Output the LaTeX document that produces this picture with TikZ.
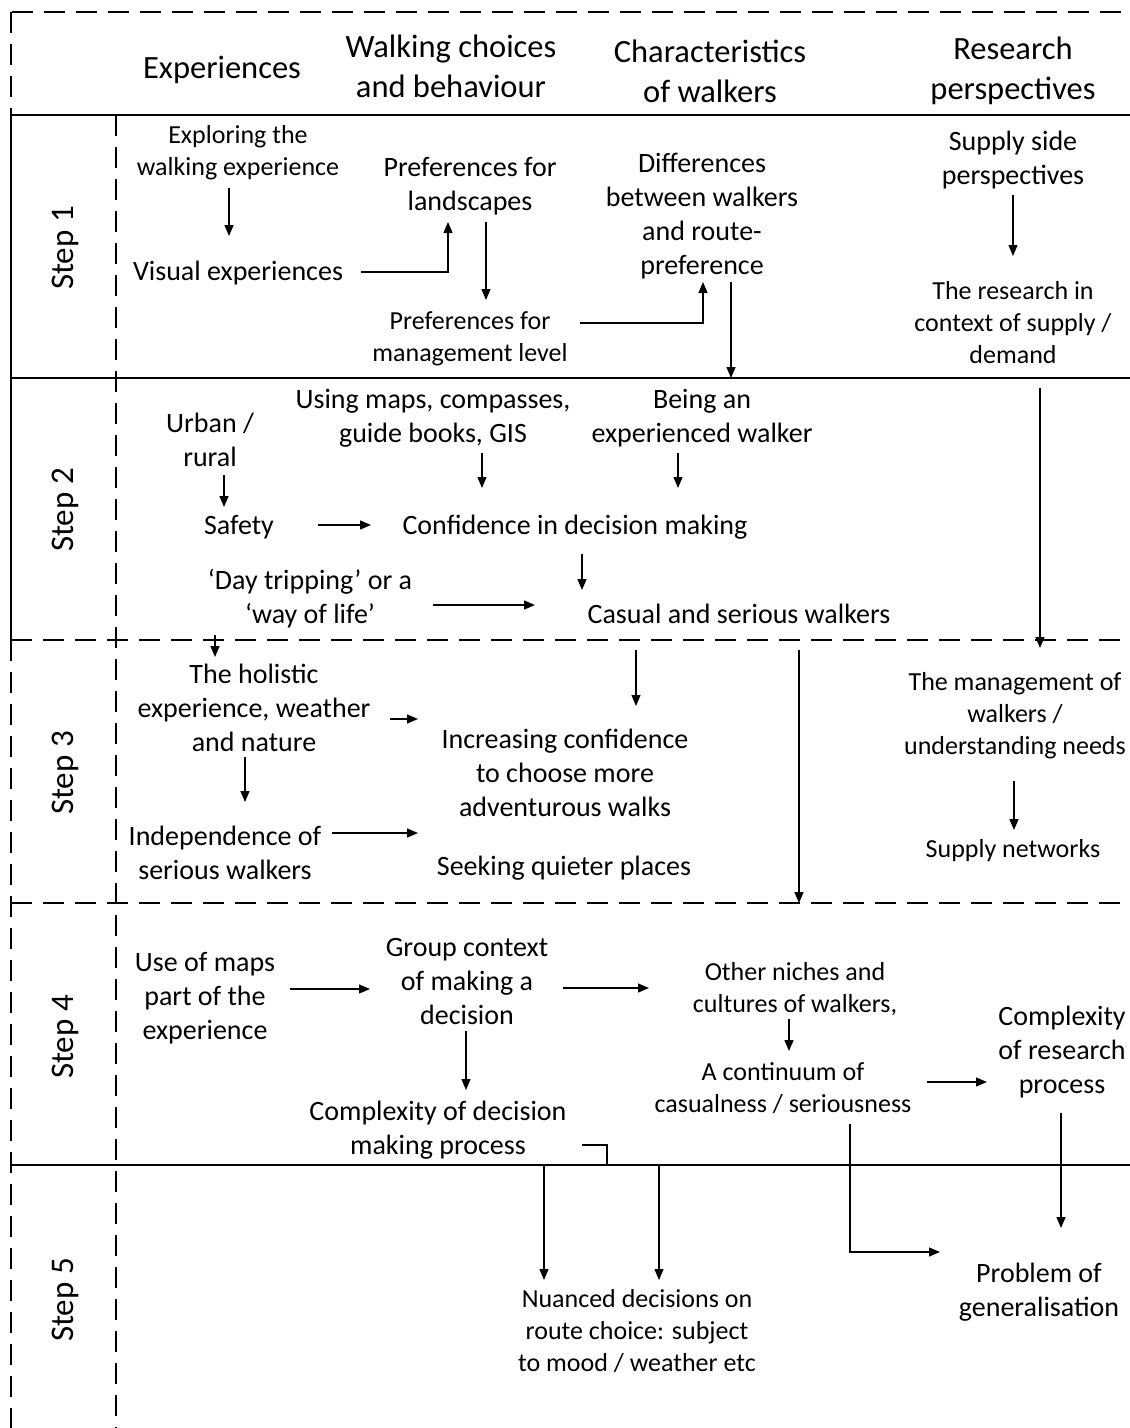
\documentclass[tikz,border=0pt]{standalone}
\usepackage{fontspec}
\setmainfont{Carlito}
\usetikzlibrary{arrows.meta}
\begin{document}
\begin{tikzpicture}[x=1pt, y=-1pt, line width=1.3pt,
  head/.style={font=\fontsize{32.5}{40}\selectfont, align=center, inner sep=0pt},
  txt/.style={font=\fontsize{28}{34}\selectfont, align=center, inner sep=0pt},
  small/.style={font=\fontsize{26}{32}\selectfont, align=center, inner sep=0pt},
  steplabel/.style={font=\fontsize{33}{38}\selectfont, rotate=90, inner sep=0pt},
  arr/.style={-{Triangle[length=11pt, width=9pt]}},
  dashline/.style={dash pattern=on 21pt off 11pt}]
  \useasboundingbox (0,0) rectangle (1130,1428);
  % frame of the table
  \draw[dashline] (12,12) -- (1130,12);
  \draw[dashline] (11,12) -- (11,115);
  \draw (11,115) -- (11,640);
  \draw[dashline] (11,640) -- (11,1428);
  \draw (11,115) -- (1130,115);
  \draw (11,378) -- (1130,378);
  \draw[dashline] (11,640) -- (1130,640);
  \draw[dashline] (11,903) -- (1130,903);
  \draw (11,1165) -- (1130,1165);
  \draw[dashline] (116,115) -- (116,1428);
  % column headers and steps
  \node[head] (hExp) at (222,70) {Experiences};
  \node[head] (hWalk) at (451,66) {Walking choices\\and behaviour};
  \node[head] (hChar) at (710,71) {Characteristics\\of walkers};
  \node[head] (hRes) at (1013,71) {Research\\perspectives};
  \foreach \n/\y in {1/248,2/510,3/773,4/1037,5/1300}
    \node[steplabel] (s\n) at (65,\y) {Step \n};
  % step 1
  \node[small] (explore) at (238,153) {Exploring the\\walking experience};
  \node[txt] (visual) at (238,273) {Visual experiences};
  \node[txt] (landsc) at (470,186) {Preferences for\\landscapes};
  \node[small] (mgmt) at (470,339) {Preferences for\\management level};
  \node[txt] (differ) at (702,216) {Differences\\between walkers\\and route-\\preference};
  \node[txt] (supply) at (1013,160) {Supply side\\perspectives};
  \node[small] (context) at (1013,323) {The research in\\context of supply /\\demand};
  % step 2
  \node[txt] (urban) at (210,440) {Urban /\\rural};
  \node[txt] (safety) at (239,527) {Safety};
  \node[txt] (usemaps) at (433,418) {Using maps, compasses,\\guide books, GIS};
  \node[txt] (experienced) at (702,418) {Being an\\experienced walker};
  \node[txt] (confid) at (575,527) {Confidence in decision making};
  \node[txt] (daytrip) at (310,599) {‘Day tripping’ or a\\‘way of life’};
  \node[txt] (casual) at (739,614) {Casual and serious walkers};
  % step 3
  \node[txt] (holistic) at (254,708) {The holistic\\experience, weather\\and nature};
  \node[txt] (independ) at (225,853) {Independence of\\serious walkers};
  \node[txt] (increasing) at (565,773) {Increasing confidence\\to choose more\\adventurous walks};
  \node[txt] (quieter) at (564,868) {Seeking quieter places};
  \node[small] (manage) at (1015,716) {The management of\\walkers /\\understanding needs};
  \node[small] (networks) at (1013,851) {Supply networks};
  % step 4
  \node[txt] (mapsexp) at (205,998) {Use of maps\\part of the\\experience};
  \node[txt] (group) at (467,982) {Group context\\of making a\\decision};
  \node[small] (niches) at (795,989) {Other niches and\\cultures of walkers,};
  \node[small] (continuum) at (783,1088) {A continuum of\\casualness / seriousness};
  \node[txt] (complexres) at (1062,1052) {Complexity\\of research\\process};
  \node[txt] (complexdec) at (438,1130) {Complexity of decision\\making process};
  % step 5
  \node[small] (nuanced) at (637,1331) {Nuanced decisions on\\route choice: subject\\to mood / weather etc};
  \node[txt] (problem) at (1039,1292) {Problem of\\generalisation};
  % connectors
  \draw[arr] ([shift={(-9,35)}]explore.center) -- ([shift={(-9,-37)}]visual.center);
  \draw[arr] ([shift={(123,-1)}]visual.center) -| ([shift={(-22,36)}]landsc.center);
  \draw[arr] ([shift={(16,36)}]landsc.center) -- ([shift={(16,-39)}]mgmt.center);
  \draw[arr] ([shift={(110,-16)}]mgmt.center) -| ([shift={(1,66)}]differ.center);
  \draw[arr] ([shift={(29,66)}]differ.center) -- ([shift={(29,162)}]differ.center);
  \draw[arr] ([shift={(0,35)}]supply.center) -- ([shift={(0,-67)}]context.center);
  \draw[arr] ([shift={(27,65)}]context.center) -- ([shift={(25,-68)}]manage.center);
  \draw[arr] ([shift={(14,35)}]urban.center) -- ([shift={(-15,-20)}]safety.center);
  \draw[arr] ([shift={(79,-2)}]safety.center) -- ([shift={(-204,-2)}]confid.center);
  \draw[arr] ([shift={(49,35)}]usemaps.center) -- ([shift={(-93,-39)}]confid.center);
  \draw[arr] ([shift={(-24,35)}]experienced.center) -- ([shift={(103,-39)}]confid.center);
  \draw[arr] ([shift={(7,27)}]confid.center) -- ([shift={(-157,-24)}]casual.center);
  \draw[arr] ([shift={(123,6)}]daytrip.center) -- ([shift={(-204,-9)}]casual.center);
  \draw[arr] ([shift={(-95,36)}]daytrip.center) -- ([shift={(-39,-51)}]holistic.center);
  \draw[arr] ([shift={(136,11)}]holistic.center) -- ([shift={(-147,-54)}]increasing.center);
  \draw[arr] ([shift={(-9,49)}]holistic.center) -- ([shift={(20,-51)}]independ.center);
  \draw[arr] ([shift={(107,-20)}]independ.center) -- ([shift={(-147,60)}]increasing.center);
  \draw[arr] ([shift={(-103,36)}]casual.center) -- ([shift={(71,-67)}]increasing.center);
  \draw[arr] ([shift={(60,36)}]casual.center) -- ([shift={(4,-86)}]niches.center);
  \draw[arr] ([shift={(-1,65)}]manage.center) -- ([shift={(1,-21)}]networks.center);
  \draw[arr] ([shift={(85,-9)}]mapsexp.center) -- ([shift={(-97,7)}]group.center);
  \draw[arr] ([shift={(96,6)}]group.center) -- ([shift={(-146,-1)}]niches.center);
  \draw[arr] ([shift={(-6,30)}]niches.center) -- ([shift={(6,-37)}]continuum.center);
  \draw[arr] ([shift={(144,-6)}]continuum.center) -- ([shift={(-75,30)}]complexres.center);
  \draw[arr] ([shift={(-1,49)}]group.center) -- ([shift={(28,-40)}]complexdec.center);
  \draw ([shift={(144,15)}]complexdec.center) -| ([shift={(169,35)}]complexdec.center);
  \draw[arr] ([shift={(-93,-166)}]nuanced.center) -- ([shift={(-93,-51)}]nuanced.center);
  \draw[arr] ([shift={(22,-166)}]nuanced.center) -- ([shift={(22,-51)}]nuanced.center);
  \draw[arr] ([shift={(67,36)}]continuum.center) |- ([shift={(-99,-40)}]problem.center);
  \draw[arr] ([shift={(-1,61)}]complexres.center) -- ([shift={(22,-64)}]problem.center);
\end{tikzpicture}
\end{document}
